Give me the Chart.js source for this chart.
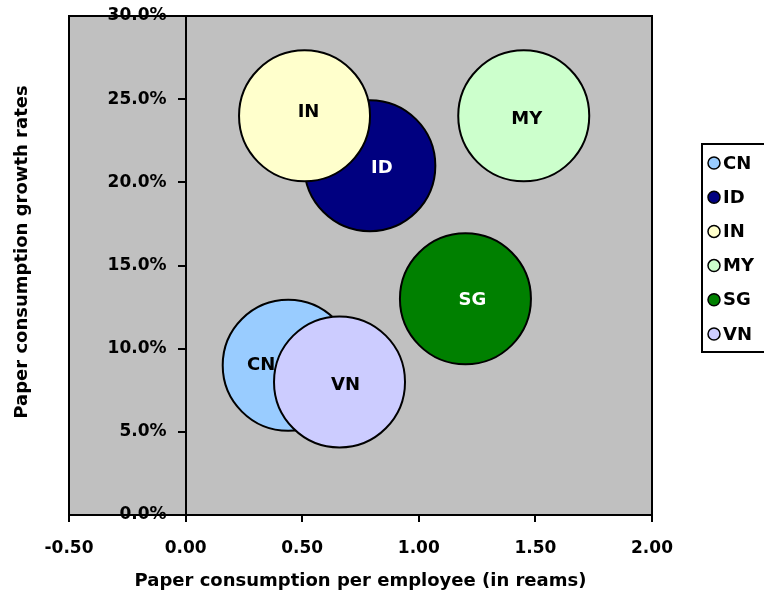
<!DOCTYPE html>
<html>
<head>
<meta charset="utf-8">
<script src="https://cdn.jsdelivr.net/npm/chart.js@4/dist/chart.umd.min.js"></script>
<style>
html,body{margin:0;padding:0;background:#fff;}
#wrap{width:764px;height:595px;position:relative;}
</style>
</head>
<body>
<div id="wrap"><canvas id="c" width="764" height="595"></canvas></div>
<script>
// ---- data ----
const countries = ['CN', 'ID', 'IN', 'MY', 'SG', 'VN'];
const paperPerEmployee = [0.44, 0.79, 0.51, 1.45, 1.20, 0.66];   // x (reams)
const growthRates = [0.090, 0.210, 0.240, 0.240, 0.130, 0.080];   // y
const bubbleSizes = [100, 100, 100, 100, 100, 100];
const xTicks = [-0.5, 0, 0.5, 1.0, 1.5, 2.0];
const yTicks = [0, 0.05, 0.10, 0.15, 0.20, 0.25, 0.30];

// ---- styles ----
const fillColors = ['#99CCFF', '#000080', '#FFFFCC', '#CCFFCC', '#008000', '#CCCCFF'];
const labelColors = ['#000', '#fff', '#000', '#000', '#fff', '#000'];
const labelShiftX = [-27, 12, 4, 3, 7, 6];
const labelShiftY = [0, 3, -3, 4, 2, 3];
const FONT = '"DejaVu Sans", sans-serif';
const MAX_R = 65.5;
const maxSize = Math.max(...bubbleSizes);

const datasets = countries.map((c, i) => ({
  label: c,
  data: [{x: paperPerEmployee[i], y: growthRates[i], r: MAX_R * Math.sqrt(bubbleSizes[i] / maxSize)}],
  backgroundColor: fillColors[i],
  borderColor: '#000',
  borderWidth: 2,
  order: -i
}));

const plotBg = {
  id: 'plotBg',
  beforeDraw(chart) {
    const {ctx, chartArea: a} = chart;
    ctx.save();
    ctx.fillStyle = '#fff';
    ctx.fillRect(0, 0, chart.width, chart.height);
    ctx.fillStyle = '#C0C0C0';
    ctx.fillRect(a.left, a.top, a.right - a.left, a.bottom - a.top);
    ctx.strokeStyle = '#000';
    ctx.lineWidth = 2;
    ctx.strokeRect(a.left, a.top, a.right - a.left, a.bottom - a.top);
    ctx.restore();
  }
};

const bubbleLabels = {
  id: 'bubbleLabels',
  afterDatasetsDraw(chart) {
    const {ctx} = chart;
    ctx.save();
    ctx.font = 'bold 18px ' + FONT;
    ctx.textAlign = 'center';
    ctx.textBaseline = 'middle';
    chart.data.datasets.forEach((ds, i) => {
      const el = chart.getDatasetMeta(i).data[0];
      ctx.fillStyle = labelColors[i];
      ctx.fillText(ds.label, el.x + labelShiftX[i], el.y + labelShiftY[i]);
    });
    ctx.restore();
  }
};

const sideText = {
  id: 'sideText',
  afterDraw(chart) {
    const {ctx} = chart;
    const xs = chart.scales.x, ys = chart.scales.y;
    ctx.save();
    const x0 = xs.getPixelForValue(0);
    ctx.font = 'bold 17px ' + FONT;
    ctx.fillStyle = '#000';
    ctx.textAlign = 'right';
    ctx.textBaseline = 'middle';
    yTicks.forEach(v => {
      ctx.fillText((v * 100).toFixed(1) + '%', x0 - 19, ys.getPixelForValue(v));
    });
    ctx.font = 'bold 18px ' + FONT;
    ctx.textAlign = 'center';
    ctx.translate(22, 252);
    ctx.rotate(-Math.PI / 2);
    ctx.fillText('Paper consumption growth rates', 0, 0);
    ctx.restore();

    // legend
    ctx.save();
    const lx = 702, ly = 144, lh = 208;
    ctx.strokeStyle = '#000';
    ctx.lineWidth = 2;
    ctx.strokeRect(lx, ly, 80, lh);
    ctx.font = 'bold 18px ' + FONT;
    ctx.textAlign = 'left';
    ctx.textBaseline = 'middle';
    countries.forEach((c, i) => {
      const y = ly + 19 + i * 34.2;
      ctx.beginPath();
      ctx.arc(714, y, 6, 0, Math.PI * 2);
      ctx.fillStyle = fillColors[i];
      ctx.fill();
      ctx.lineWidth = 1.5;
      ctx.strokeStyle = '#000';
      ctx.stroke();
      ctx.fillStyle = '#000';
      ctx.fillText(c, 723, y + 1);
    });
    ctx.restore();
  }
};

new Chart(document.getElementById('c'), {
  type: 'bubble',
  data: {datasets},
  plugins: [plotBg, bubbleLabels, sideText],
  options: {
    responsive: false,
    animation: false,
    events: [],
    layout: {autoPadding: false, padding: {left: 69, right: 112, top: 16, bottom: 0}},
    plugins: {legend: {display: false}, tooltip: {enabled: false}},
    scales: {
      x: {
        type: 'linear',
        position: 'bottom',
        min: xTicks[0],
        max: xTicks[xTicks.length - 1],
        afterBuildTicks: s => { s.ticks = xTicks.map(v => ({value: v})); },
        afterFit: s => { s.height = 80; },
        ticks: {
          padding: 16,
          color: '#000',
          font: {family: FONT, size: 17, weight: 'bold'},
          callback: v => Number(v).toFixed(2),
          maxRotation: 0
        },
        grid: {display: true, drawOnChartArea: false, drawTicks: true, tickLength: 7, color: '#000', lineWidth: 2},
        border: {display: true, color: '#000', width: 2},
        title: {
          display: true,
          text: 'Paper consumption per employee (in reams)',
          color: '#000',
          font: {family: FONT, size: 18, weight: 'bold'},
          padding: {top: 0, bottom: 3}
        }
      },
      y: {
        type: 'linear',
        position: {x: 0},
        min: yTicks[0],
        max: yTicks[yTicks.length - 1],
        afterBuildTicks: s => { s.ticks = yTicks.map(v => ({value: v})); },
        ticks: {display: false},
        grid: {display: true, drawOnChartArea: false, drawTicks: true, tickLength: 7, color: '#000', lineWidth: 2},
        border: {display: true, color: '#000', width: 2}
      }
    }
  }
});
</script>
</body>
</html>
